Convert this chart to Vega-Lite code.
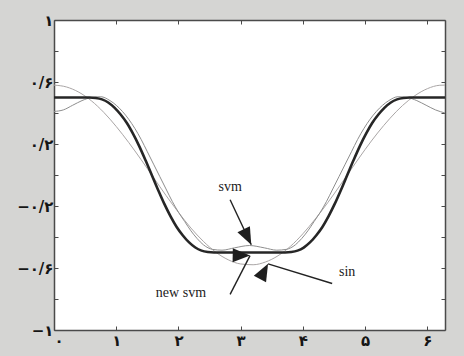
{
  "$schema": "https://vega.github.io/schema/vega-lite/v6.json",
  "width": 391,
  "height": 310,
  "autosize": {"type": "none"},
  "padding": {"left": 54, "top": 20, "right": 19, "bottom": 26},
  "background": "#d5d5d3",
  "config": {
    "view": {"fill": "white", "stroke": null},
    "axis": {
      "grid": false,
      "title": null,
      "domainColor": "#4a4a4a",
      "domainWidth": 1.5,
      "tickColor": "#4a4a4a",
      "tickWidth": 1,
      "tickSize": -4,
      "labelFont": "DejaVu Sans",
      "labelFontWeight": "bold",
      "labelFontSize": 15,
      "labelColor": "#151515"
    }
  },
  "datasets": {
    "curves": [
      {"x": 0.0, "v": 0.58, "series": "sin"},
      {"x": 0.2, "v": 0.568, "series": "sin"},
      {"x": 0.4, "v": 0.534, "series": "sin"},
      {"x": 0.6, "v": 0.479, "series": "sin"},
      {"x": 0.8, "v": 0.404, "series": "sin"},
      {"x": 1.0, "v": 0.313, "series": "sin"},
      {"x": 1.2, "v": 0.21, "series": "sin"},
      {"x": 1.4, "v": 0.099, "series": "sin"},
      {"x": 1.6, "v": -0.017, "series": "sin"},
      {"x": 1.8, "v": -0.132, "series": "sin"},
      {"x": 2.0, "v": -0.241, "series": "sin"},
      {"x": 2.2, "v": -0.342, "series": "sin"},
      {"x": 2.4, "v": -0.428, "series": "sin"},
      {"x": 2.6, "v": -0.498, "series": "sin"},
      {"x": 2.8, "v": -0.547, "series": "sin"},
      {"x": 3.0, "v": -0.574, "series": "sin"},
      {"x": 3.2, "v": -0.579, "series": "sin"},
      {"x": 3.4, "v": -0.561, "series": "sin"},
      {"x": 3.6, "v": -0.521, "series": "sin"},
      {"x": 3.8, "v": -0.46, "series": "sin"},
      {"x": 4.0, "v": -0.379, "series": "sin"},
      {"x": 4.2, "v": -0.283, "series": "sin"},
      {"x": 4.4, "v": -0.178, "series": "sin"},
      {"x": 4.6, "v": -0.065, "series": "sin"},
      {"x": 4.8, "v": 0.051, "series": "sin"},
      {"x": 5.0, "v": 0.165, "series": "sin"},
      {"x": 5.2, "v": 0.271, "series": "sin"},
      {"x": 5.4, "v": 0.366, "series": "sin"},
      {"x": 5.6, "v": 0.448, "series": "sin"},
      {"x": 5.8, "v": 0.512, "series": "sin"},
      {"x": 6.0, "v": 0.557, "series": "sin"},
      {"x": 6.2, "v": 0.579, "series": "sin"},
      {"x": 6.283, "v": 0.58, "series": "sin"},

      {"x": 0.0, "v": 0.41, "series": "svm"},
      {"x": 0.15, "v": 0.42, "series": "svm"},
      {"x": 0.3, "v": 0.45, "series": "svm"},
      {"x": 0.45, "v": 0.48, "series": "svm"},
      {"x": 0.6, "v": 0.5, "series": "svm"},
      {"x": 0.75, "v": 0.505, "series": "svm"},
      {"x": 0.9, "v": 0.48, "series": "svm"},
      {"x": 1.0, "v": 0.45, "series": "svm"},
      {"x": 1.1, "v": 0.41, "series": "svm"},
      {"x": 1.2, "v": 0.36, "series": "svm"},
      {"x": 1.3, "v": 0.3, "series": "svm"},
      {"x": 1.4, "v": 0.23, "series": "svm"},
      {"x": 1.5, "v": 0.15, "series": "svm"},
      {"x": 1.6, "v": 0.07, "series": "svm"},
      {"x": 1.7, "v": -0.01, "series": "svm"},
      {"x": 1.8, "v": -0.09, "series": "svm"},
      {"x": 1.9, "v": -0.17, "series": "svm"},
      {"x": 2.0, "v": -0.24, "series": "svm"},
      {"x": 2.1, "v": -0.3, "series": "svm"},
      {"x": 2.2, "v": -0.36, "series": "svm"},
      {"x": 2.3, "v": -0.41, "series": "svm"},
      {"x": 2.4, "v": -0.45, "series": "svm"},
      {"x": 2.55, "v": -0.48, "series": "svm"},
      {"x": 2.7, "v": -0.485, "series": "svm"},
      {"x": 2.9, "v": -0.47, "series": "svm"},
      {"x": 3.14, "v": -0.455, "series": "svm"},
      {"x": 3.38, "v": -0.47, "series": "svm"},
      {"x": 3.58, "v": -0.485, "series": "svm"},
      {"x": 3.73, "v": -0.48, "series": "svm"},
      {"x": 3.88, "v": -0.45, "series": "svm"},
      {"x": 3.98, "v": -0.41, "series": "svm"},
      {"x": 4.08, "v": -0.36, "series": "svm"},
      {"x": 4.18, "v": -0.3, "series": "svm"},
      {"x": 4.28, "v": -0.24, "series": "svm"},
      {"x": 4.38, "v": -0.17, "series": "svm"},
      {"x": 4.48, "v": -0.09, "series": "svm"},
      {"x": 4.58, "v": -0.01, "series": "svm"},
      {"x": 4.68, "v": 0.07, "series": "svm"},
      {"x": 4.78, "v": 0.15, "series": "svm"},
      {"x": 4.88, "v": 0.23, "series": "svm"},
      {"x": 4.98, "v": 0.3, "series": "svm"},
      {"x": 5.08, "v": 0.36, "series": "svm"},
      {"x": 5.18, "v": 0.41, "series": "svm"},
      {"x": 5.28, "v": 0.45, "series": "svm"},
      {"x": 5.38, "v": 0.48, "series": "svm"},
      {"x": 5.53, "v": 0.505, "series": "svm"},
      {"x": 5.68, "v": 0.5, "series": "svm"},
      {"x": 5.83, "v": 0.48, "series": "svm"},
      {"x": 5.98, "v": 0.45, "series": "svm"},
      {"x": 6.13, "v": 0.42, "series": "svm"},
      {"x": 6.283, "v": 0.40, "series": "svm"},

      {"x": 0.0, "v": 0.5, "series": "new svm"},
      {"x": 0.371, "v": 0.5, "series": "new svm"},
      {"x": 0.571, "v": 0.5, "series": "new svm"},
      {"x": 0.671, "v": 0.497, "series": "new svm"},
      {"x": 0.771, "v": 0.488, "series": "new svm"},
      {"x": 0.871, "v": 0.468, "series": "new svm"},
      {"x": 0.971, "v": 0.435, "series": "new svm"},
      {"x": 1.071, "v": 0.39, "series": "new svm"},
      {"x": 1.171, "v": 0.335, "series": "new svm"},
      {"x": 1.271, "v": 0.265, "series": "new svm"},
      {"x": 1.371, "v": 0.185, "series": "new svm"},
      {"x": 1.471, "v": 0.095, "series": "new svm"},
      {"x": 1.571, "v": 0.0, "series": "new svm"},
      {"x": 1.671, "v": -0.095, "series": "new svm"},
      {"x": 1.771, "v": -0.185, "series": "new svm"},
      {"x": 1.871, "v": -0.265, "series": "new svm"},
      {"x": 1.971, "v": -0.335, "series": "new svm"},
      {"x": 2.071, "v": -0.39, "series": "new svm"},
      {"x": 2.171, "v": -0.435, "series": "new svm"},
      {"x": 2.271, "v": -0.468, "series": "new svm"},
      {"x": 2.371, "v": -0.488, "series": "new svm"},
      {"x": 2.471, "v": -0.497, "series": "new svm"},
      {"x": 2.571, "v": -0.5, "series": "new svm"},
      {"x": 3.142, "v": -0.5, "series": "new svm"},
      {"x": 3.713, "v": -0.5, "series": "new svm"},
      {"x": 3.813, "v": -0.497, "series": "new svm"},
      {"x": 3.913, "v": -0.488, "series": "new svm"},
      {"x": 4.013, "v": -0.468, "series": "new svm"},
      {"x": 4.113, "v": -0.435, "series": "new svm"},
      {"x": 4.213, "v": -0.39, "series": "new svm"},
      {"x": 4.313, "v": -0.335, "series": "new svm"},
      {"x": 4.413, "v": -0.265, "series": "new svm"},
      {"x": 4.513, "v": -0.185, "series": "new svm"},
      {"x": 4.613, "v": -0.095, "series": "new svm"},
      {"x": 4.713, "v": 0.0, "series": "new svm"},
      {"x": 4.813, "v": 0.095, "series": "new svm"},
      {"x": 4.913, "v": 0.185, "series": "new svm"},
      {"x": 5.013, "v": 0.265, "series": "new svm"},
      {"x": 5.113, "v": 0.335, "series": "new svm"},
      {"x": 5.213, "v": 0.39, "series": "new svm"},
      {"x": 5.313, "v": 0.435, "series": "new svm"},
      {"x": 5.413, "v": 0.468, "series": "new svm"},
      {"x": 5.513, "v": 0.488, "series": "new svm"},
      {"x": 5.613, "v": 0.497, "series": "new svm"},
      {"x": 5.713, "v": 0.5, "series": "new svm"},
      {"x": 5.913, "v": 0.5, "series": "new svm"},
      {"x": 6.283, "v": 0.5, "series": "new svm"}
    ],
    "notes": [
      {"label": "svm", "tx": 2.83, "ty": -0.08, "x0": 2.83, "y0": -0.16, "x1": 3.17, "y1": -0.45},
      {"label": "new svm", "tx": 2.04, "ty": -0.76, "x0": 2.83, "y0": -0.77, "x1": 3.15, "y1": -0.52},
      {"label": "sin", "tx": 4.71, "ty": -0.625, "x0": 4.47, "y0": -0.70, "x1": 3.44, "y1": -0.573}
    ]
  },
  "resolve": {"axis": {"x": "independent", "y": "independent"}},
  "layer": [
    {
      "data": {"name": "curves"},
      "transform": [{"filter": "datum.series === 'sin'"}],
      "mark": {"type": "line", "color": "#aaa6a6", "strokeWidth": 1, "interpolate": "monotone"},
      "encoding": {
        "x": {
          "field": "x", "type": "quantitative",
          "scale": {"domain": [0, 6.2832], "nice": false, "zero": false},
          "axis": {"orient": "top", "values": [0, 1, 2, 3, 4, 5, 6], "labels": false}
        },
        "y": {
          "field": "v", "type": "quantitative",
          "scale": {"domain": [-1, 1], "nice": false, "zero": false},
          "axis": {"orient": "right", "values": [-1, -0.8, -0.6, -0.4, -0.2, 0, 0.2, 0.4, 0.6, 0.8, 1], "labels": false}
        }
      }
    },
    {
      "data": {"name": "curves"},
      "transform": [{"filter": "datum.series === 'svm'"}],
      "mark": {"type": "line", "color": "#8e8e8e", "strokeWidth": 1, "interpolate": "monotone"},
      "encoding": {
        "x": {"field": "x", "type": "quantitative", "axis": null},
        "y": {"field": "v", "type": "quantitative", "axis": null}
      }
    },
    {
      "data": {"name": "curves"},
      "transform": [{"filter": "datum.series === 'new svm'"}],
      "mark": {"type": "line", "color": "#262626", "strokeWidth": 2.6, "interpolate": "monotone"},
      "encoding": {
        "x": {
          "field": "x", "type": "quantitative",
          "axis": {
            "orient": "bottom",
            "values": [0, 1, 2, 3, 4, 5, 6],
            "labelPadding": 7,
            "labelExpr": "['۰','۱','۲','۳','۴','۵','۶'][round(datum.value)]"
          }
        },
        "y": {
          "field": "v", "type": "quantitative",
          "axis": {
            "orient": "left",
            "values": [-1, -0.8, -0.6, -0.4, -0.2, 0, 0.2, 0.4, 0.6, 0.8, 1],
            "labelPadding": 5,
            "labelExpr": "round(datum.value*10) == 10 ? '۱' : round(datum.value*10) == 6 ? '۰/۶' : round(datum.value*10) == 2 ? '۰/۲' : round(datum.value*10) == -2 ? '−۰/۲' : round(datum.value*10) == -6 ? '−۰/۶' : round(datum.value*10) == -10 ? '−۱' : ''"
          }
        }
      }
    },
    {
      "data": {"name": "notes"},
      "mark": {"type": "rule", "color": "#222", "strokeWidth": 1.4},
      "encoding": {
        "x": {"field": "x0", "type": "quantitative", "axis": null},
        "y": {"field": "y0", "type": "quantitative", "axis": null},
        "x2": {"field": "x1"},
        "y2": {"field": "y1"}
      }
    },
    {
      "data": {"name": "notes"},
      "mark": {"type": "point", "shape": "M0,0L-0.4,1L0.4,1Z", "filled": true, "color": "#1e1e1e", "opacity": 1, "size": 1200},
      "encoding": {
        "x": {"field": "x1", "type": "quantitative", "axis": null},
        "y": {"field": "y1", "type": "quantitative", "axis": null},
        "angle": {
          "field": "label", "type": "nominal",
          "scale": {"domain": ["svm", "new svm", "sin"], "range": [154, 28, 287]},
          "legend": null
        }
      }
    },
    {
      "data": {"name": "notes"},
      "mark": {"type": "text", "font": "Liberation Serif", "fontSize": 14, "color": "#222", "align": "center", "baseline": "middle"},
      "encoding": {
        "x": {"field": "tx", "type": "quantitative", "axis": null},
        "y": {"field": "ty", "type": "quantitative", "axis": null},
        "text": {"field": "label"}
      }
    }
  ]
}
